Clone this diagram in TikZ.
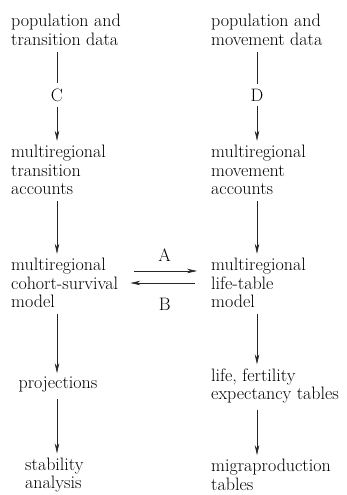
\documentclass[tikz,border=0pt]{standalone}
\usepackage{fontspec}
\usepackage{tikz}
\usetikzlibrary{arrows.meta}

\begin{document}
\begin{tikzpicture}[
    x=1pt, y=-1pt, % page units, y runs downwards
    font=\fontsize{18}{18.7}\selectfont,
    textbox/.style = {align=left, anchor=west, inner sep=0pt},
    letter/.style = {inner sep=5pt},
    line/.style = {-{Stealth[length=10pt,width=4.5pt]}, draw=black!85, line width=0.6pt}
    ]
    \tikzstyle{plain_line} = [draw=black!85, line width=0.6pt]
    \tikzstyle{line_gap} = [shorten <=6pt, shorten >=4pt]
    \useasboundingbox (0,0) rectangle (346,495);

    % left column
    \node[textbox] (popTrans) at (11,30) {population and\\transition data};
    \node[letter] (C) at (57,95) {C};
    \node[textbox] (mrTrans) at (11,170) {multiregional\\transition\\accounts};
    \node[textbox] (mrCohort) at (11,283) {multiregional\\cohort-survival\\model};
    \node[inner sep=0pt] (proj) at (58,385) {projections};
    \node[textbox] (stab) at (25,475) {stability\\analysis};

    % right column
    \node[textbox] (popMove) at (211,30) {population and\\movement data};
    \node[letter] (D) at (257,95) {D};
    \node[textbox] (mrMove) at (211,170) {multiregional\\movement\\accounts};
    \node[textbox] (mrLife) at (211,283) {multiregional\\life-table\\model};
    \node[textbox] (lifeTab) at (211,386) {life, fertility\\expectancy tables};
    \node[textbox] (migTab) at (211,475) {migraproduction\\tables};

    \draw[plain_line, shorten <=6pt] (popTrans.south -| C) -- (C);
    \draw[line, shorten >=4pt] (C) -- (mrTrans.north -| C);
    \draw[plain_line, shorten <=6pt] (popMove.south -| D) -- (D);
    \draw[line, shorten >=4pt] (D) -- (mrMove.north -| D);

    \draw[line, line_gap] (mrTrans.south -| C) -- (mrCohort.north -| C);
    \draw[line, line_gap] (mrCohort.south -| C) -- (proj.north -| C);
    \draw[line, line_gap] (proj.south -| C) -- (stab.north -| C);
    \draw[line, line_gap] (mrMove.south -| D) -- (mrLife.north -| D);
    \draw[line, line_gap] (mrLife.south -| D) -- (lifeTab.north -| D);
    \draw[line, line_gap] (lifeTab.south -| D) -- (migTab.north -| D);

    \draw[line, shorten <=16pt, shorten >=14pt] ([yshift=12pt]mrCohort.east) -- node[above=9pt, inner sep=0pt] {A} ([yshift=12pt]mrCohort.east -| mrLife.west);
    \draw[line, shorten <=16pt, shorten >=12pt] (mrLife.west |- mrCohort.east) -- node[below=15pt, inner sep=0pt] {B} (mrCohort.east);
\end{tikzpicture}
\end{document}
